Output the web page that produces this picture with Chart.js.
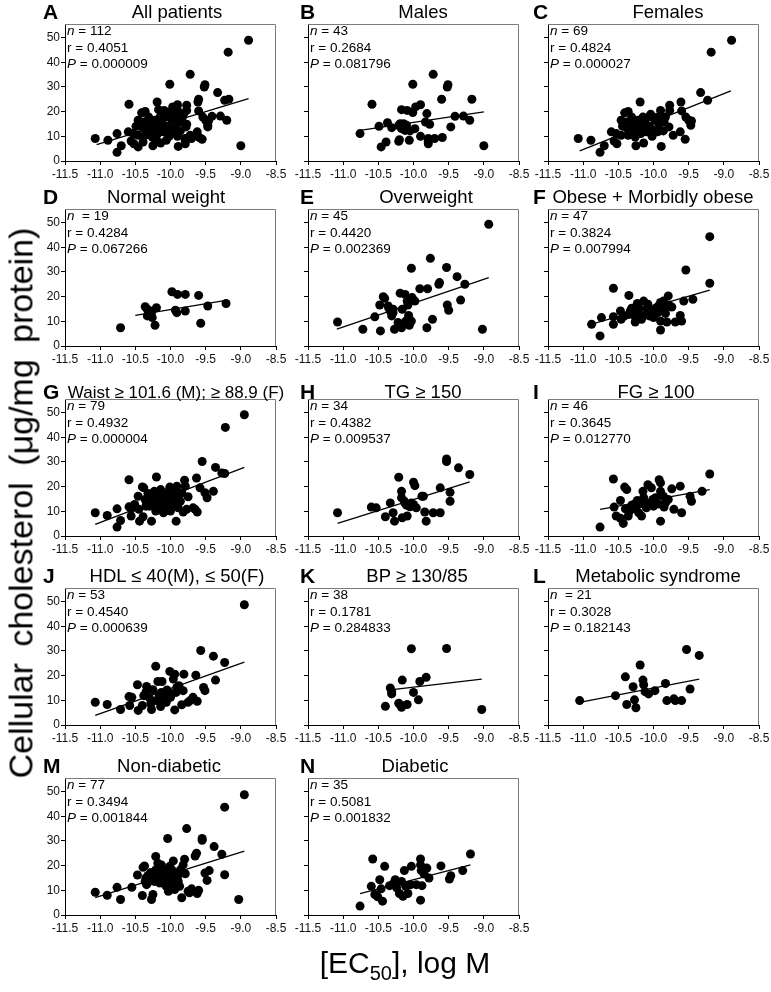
<!DOCTYPE html>
<html>
<head>
<meta charset="utf-8">
<script src="https://cdn.jsdelivr.net/npm/chart.js@4.4.1/dist/chart.umd.min.js"></script>
<style>
body{margin:0;background:#fff;width:771px;height:992px;position:relative;overflow:hidden;font-family:Arial,"Liberation Sans",sans-serif;color:#000;}
canvas{position:absolute;}
.letter{position:absolute;font-weight:bold;font-size:21px;line-height:1;}
.title{position:absolute;font-size:18.5px;line-height:1;white-space:nowrap;transform:translateX(-50%);}
.stats{position:absolute;font-size:13.5px;line-height:16.7px;white-space:pre;}
.ytitle{position:absolute;font-size:34px;white-space:nowrap;word-spacing:7px;transform:translate(-50%,-50%) rotate(-90deg);}
.xtitle{position:absolute;font-size:30px;white-space:nowrap;transform:translateX(-50%);}
</style>
</head>
<body>
<script>
// axis ticks
const xTicks = [-11.5,-11.0,-10.5,-10.0,-9.5,-9.0,-8.5];
const yTicks = [0,10,20,30,40,50];

// points: [log EC50, cholesterol]
const dataB = [[-10.76,11.1],[-10.59,23.0],[-10.49,14.1],[-10.46,5.7],[-10.39,7.7],[-10.37,15.5],[-10.31,13.5],[-10.21,8.0],[-10.20,8.6],[-10.19,15.1],[-10.17,20.8],[-10.14,15.1],[-10.17,13.1],[-10.12,12.4],[-10.09,20.5],[-10.06,8.4],[-10.05,12.2],[-10.01,31.1],[-10.01,19.6],[-9.98,13.1],[-9.97,21.9],[-9.90,22.8],[-9.90,10.0],[-9.83,15.8],[-9.81,19.2],[-9.79,9.1],[-9.79,7.0],[-9.77,14.9],[-9.72,35.1],[-9.70,9.1],[-9.59,9.5],[-9.60,25.0],[-9.52,30.0],[-9.51,30.9],[-9.47,13.8],[-9.41,18.1],[-9.29,18.2],[-9.20,16.5],[-9.17,25.0],[-9.00,6.2],[-10.21,14.4],[-10.10,14.5],[-9.79,8.0]];
const dataC = [[-11.07,9.1],[-10.89,8.4],[-10.76,3.5],[-10.70,6.2],[-10.60,11.8],[-10.56,8.1],[-10.53,11.1],[-10.52,7.0],[-10.46,10.4],[-10.46,16.5],[-10.41,19.5],[-10.36,20.1],[-10.37,13.1],[-10.33,14.5],[-10.32,11.8],[-10.30,15.8],[-10.27,13.5],[-10.26,9.7],[-10.25,6.2],[-10.22,16.5],[-10.19,23.9],[-10.21,12.4],[-10.15,17.8],[-10.14,7.3],[-10.12,15.1],[-10.10,11.8],[-10.07,17.8],[-10.04,18.9],[-10.02,10.0],[-10.00,12.4],[-9.98,16.5],[-9.96,17.6],[-9.92,14.9],[-9.90,20.5],[-9.89,5.9],[-9.88,17.2],[-9.86,12.2],[-9.85,15.8],[-9.78,13.8],[-9.77,22.6],[-9.77,20.5],[-9.72,10.4],[-9.62,11.8],[-9.61,23.9],[-9.60,20.3],[-9.55,8.8],[-9.54,17.8],[-9.50,16.5],[-9.47,14.5],[-9.46,16.2],[-9.33,27.7],[-9.23,24.6],[-9.18,44.1],[-8.89,48.9],[-10.38,15.8],[-10.31,17.8],[-10.29,14.1],[-10.26,14.9],[-10.17,15.8],[-10.12,13.5],[-10.06,14.1],[-10.03,13.1],[-9.94,11.8],[-10.12,17.2],[-10.27,11.1],[-10.18,11.1],[-9.83,17.8],[-10.36,10.4],[-10.44,14.1]];
const dataA = dataB.concat(dataC);
const dataD = [[-10.71,7.4],[-10.36,15.9],[-10.33,14.9],[-10.29,14.2],[-10.27,13.5],[-10.26,11.5],[-10.20,15.5],[-10.22,8.4],[-9.98,22.0],[-9.90,20.9],[-9.93,14.5],[-9.91,13.5],[-9.79,20.9],[-9.79,14.2],[-9.60,20.5],[-9.57,9.2],[-9.47,16.2],[-9.21,17.2],[-10.33,12.2]];
const dataE = [[-11.08,9.7],[-10.72,6.8],[-10.55,11.8],[-10.48,16.6],[-10.47,6.1],[-10.43,20.0],[-10.41,19.3],[-10.35,15.3],[-10.33,14.2],[-10.29,14.9],[-10.31,12.2],[-10.27,6.8],[-10.22,9.5],[-10.21,8.8],[-10.19,21.4],[-10.17,7.4],[-10.12,20.9],[-10.11,10.1],[-10.09,18.2],[-10.08,16.6],[-10.07,12.4],[-10.06,8.4],[-10.03,31.5],[-10.03,10.1],[-10.02,19.6],[-9.98,18.2],[-9.91,23.2],[-9.81,7.4],[-9.80,23.2],[-9.76,35.5],[-9.73,10.8],[-9.64,25.0],[-9.63,25.7],[-9.53,31.8],[-9.52,16.6],[-9.50,14.5],[-9.38,28.1],[-9.33,18.6],[-9.27,25.0],[-9.02,6.8],[-8.93,49.3],[-10.29,13.5],[-10.36,16.2],[-10.16,14.9],[-10.05,18.9]];
const dataF = [[-10.88,8.8],[-10.76,4.1],[-10.74,11.5],[-10.57,11.9],[-10.57,8.8],[-10.57,23.4],[-10.47,14.2],[-10.46,10.8],[-10.35,20.5],[-10.35,12.8],[-10.33,14.2],[-10.31,15.3],[-10.26,9.7],[-10.23,17.2],[-10.22,13.5],[-10.14,18.2],[-10.12,12.6],[-10.10,14.9],[-10.06,12.2],[-10.00,11.5],[-9.94,13.5],[-9.93,16.2],[-9.90,17.6],[-9.90,10.1],[-9.90,6.5],[-9.86,18.2],[-9.83,13.2],[-9.81,9.7],[-9.79,20.3],[-9.78,16.6],[-9.74,15.8],[-9.69,9.7],[-9.62,12.4],[-9.60,10.1],[-9.57,18.2],[-9.54,30.8],[-9.44,18.9],[-9.20,44.3],[-9.20,25.4],[-10.21,15.5],[-10.03,14.2],[-10.27,12.2],[-9.85,14.9],[-10.17,10.8],[-9.97,15.3],[-10.41,12.2],[-10.08,16.9]];
const dataG = [[-11.07,9.4],[-10.90,8.3],[-10.76,11.0],[-10.76,3.6],[-10.71,6.3],[-10.59,22.8],[-10.59,11.8],[-10.56,11.0],[-10.56,8.1],[-10.51,12.8],[-10.46,16.1],[-10.45,10.8],[-10.44,6.0],[-10.40,19.9],[-10.38,19.5],[-10.39,7.8],[-10.36,14.8],[-10.34,13.4],[-10.32,17.2],[-10.30,12.1],[-10.28,15.5],[-10.27,6.0],[-10.25,13.7],[-10.23,18.1],[-10.21,10.1],[-10.20,23.9],[-10.18,16.4],[-10.16,13.4],[-10.14,18.8],[-10.13,12.1],[-10.11,15.5],[-10.10,9.4],[-10.08,17.5],[-10.06,12.8],[-10.05,14.4],[-10.03,10.5],[-10.01,19.8],[-10.00,16.1],[-9.98,12.8],[-9.96,18.5],[-9.94,14.8],[-9.92,6.0],[-9.91,20.2],[-9.89,11.4],[-9.87,16.8],[-9.86,14.1],[-9.82,9.7],[-9.80,22.6],[-9.79,20.2],[-9.77,10.8],[-9.75,15.9],[-9.68,11.4],[-9.65,10.8],[-9.63,23.5],[-9.62,9.7],[-9.58,19.5],[-9.55,30.2],[-9.51,17.5],[-9.48,15.5],[-9.39,18.1],[-9.36,27.8],[-9.27,25.5],[-9.23,25.3],[-9.22,44.0],[-8.95,49.1],[-10.35,12.1],[-10.27,16.8],[-10.21,14.5],[-10.16,11.4],[-10.12,17.7],[-10.03,15.9],[-10.00,10.1],[-9.95,16.1],[-9.90,12.5],[-9.84,17.5],[-10.09,13.7],[-10.18,12.4],[-10.02,16.8],[-10.31,15.9]];
const dataH = [[-11.08,9.4],[-10.60,11.7],[-10.53,11.4],[-10.40,7.8],[-10.33,13.4],[-10.29,9.4],[-10.27,6.0],[-10.21,23.8],[-10.17,18.1],[-10.17,15.5],[-10.16,7.4],[-10.12,13.2],[-10.10,12.5],[-10.09,8.1],[-10.05,11.8],[-10.03,13.4],[-10.00,21.8],[-10.00,12.8],[-9.98,20.4],[-9.88,16.1],[-9.86,16.1],[-9.84,9.7],[-9.82,6.0],[-9.72,9.4],[-9.62,9.4],[-9.62,19.5],[-9.53,31.2],[-9.53,30.2],[-9.48,17.7],[-9.48,14.1],[-9.36,27.6],[-9.20,24.9],[-10.13,14.1],[-9.96,11.4]];
const dataI = [[-10.76,3.6],[-10.57,23.1],[-10.56,11.7],[-10.53,8.1],[-10.47,7.2],[-10.47,14.4],[-10.43,5.1],[-10.41,19.8],[-10.38,18.8],[-10.40,11.0],[-10.36,8.1],[-10.31,12.5],[-10.27,13.0],[-10.26,11.0],[-10.23,14.4],[-10.21,9.4],[-10.17,8.1],[-10.15,18.1],[-10.14,15.5],[-10.12,12.5],[-10.08,20.8],[-10.05,13.4],[-10.03,19.5],[-10.00,12.1],[-9.97,15.5],[-9.93,13.0],[-9.92,22.8],[-9.90,21.5],[-9.90,18.1],[-9.90,6.0],[-9.86,16.1],[-9.85,11.7],[-9.79,14.8],[-9.74,19.1],[-9.71,10.8],[-9.62,20.2],[-9.60,9.4],[-9.48,16.1],[-9.46,14.1],[-9.31,18.1],[-9.20,25.1],[-10.34,10.1],[-10.10,11.4],[-10.01,14.8],[-10.21,12.8],[-9.83,13.4]];
const dataJ = [[-11.07,9.2],[-10.90,8.3],[-10.71,6.3],[-10.59,11.5],[-10.58,7.9],[-10.55,11.2],[-10.47,16.3],[-10.46,5.9],[-10.40,7.9],[-10.38,11.9],[-10.34,15.6],[-10.32,14.6],[-10.30,11.0],[-10.28,8.6],[-10.27,6.3],[-10.25,14.3],[-10.21,23.8],[-10.20,9.9],[-10.18,17.6],[-10.14,7.5],[-10.12,17.6],[-10.10,9.2],[-10.08,12.6],[-10.06,9.2],[-10.03,13.2],[-10.01,21.7],[-10.00,11.2],[-9.98,12.6],[-9.96,18.6],[-9.94,6.1],[-9.94,20.6],[-9.91,15.2],[-9.88,15.9],[-9.84,8.2],[-9.82,13.9],[-9.81,20.6],[-9.75,9.2],[-9.72,9.9],[-9.68,11.2],[-9.64,20.2],[-9.62,9.6],[-9.57,30.2],[-9.53,15.2],[-9.51,13.9],[-9.39,27.9],[-9.36,18.2],[-9.23,25.3],[-8.95,48.7],[-10.35,13.2],[-10.16,11.9],[-10.05,14.2],[-10.13,13.2],[-9.92,13.2]];
const dataK = [[-10.40,7.6],[-10.33,15.0],[-10.31,13.5],[-10.31,12.6],[-10.21,8.8],[-10.17,7.2],[-10.16,18.2],[-10.09,8.3],[-10.03,30.9],[-10.00,13.2],[-9.93,10.2],[-9.91,17.6],[-9.82,19.3],[-9.53,31.0],[-9.03,6.3],[-10.19,8.2]];
const dataL = [[-11.05,9.9],[-10.54,11.9],[-10.40,19.5],[-10.38,8.3],[-10.29,15.5],[-10.27,10.2],[-10.25,7.0],[-10.19,24.3],[-10.15,18.2],[-10.14,16.3],[-10.12,13.5],[-10.07,12.6],[-9.98,13.9],[-9.83,16.8],[-9.81,9.9],[-9.71,10.6],[-9.69,9.9],[-9.60,9.9],[-9.53,30.6],[-9.48,14.6],[-9.35,28.2]];
const dataM = [[-11.07,9.2],[-10.90,8.0],[-10.76,11.2],[-10.71,6.3],[-10.55,11.2],[-10.47,16.2],[-10.40,7.9],[-10.39,19.3],[-10.37,19.9],[-10.35,15.0],[-10.32,16.0],[-10.30,13.6],[-10.28,17.2],[-10.27,6.3],[-10.25,8.3],[-10.25,15.2],[-10.21,23.7],[-10.20,16.3],[-10.18,21.0],[-10.16,13.0],[-10.14,15.0],[-10.13,20.3],[-10.11,17.6],[-10.10,13.6],[-10.08,18.3],[-10.06,11.6],[-10.05,16.6],[-10.04,31.0],[-10.03,9.6],[-10.01,19.7],[-10.00,14.3],[-9.98,18.3],[-9.96,21.9],[-9.96,13.0],[-9.94,10.3],[-9.92,16.3],[-9.90,15.6],[-9.87,11.6],[-9.84,7.0],[-9.82,20.3],[-9.80,22.6],[-9.79,16.7],[-9.77,35.0],[-9.75,9.6],[-9.73,9.0],[-9.70,10.6],[-9.65,23.9],[-9.63,25.0],[-9.62,8.7],[-9.60,10.0],[-9.55,30.3],[-9.55,31.0],[-9.51,17.0],[-9.48,14.0],[-9.45,18.0],[-9.38,27.7],[-9.27,24.6],[-9.23,16.3],[-9.23,43.7],[-9.03,6.3],[-8.95,48.7],[-10.36,13.6],[-10.34,12.3],[-10.29,15.6],[-10.23,13.6],[-10.21,18.3],[-10.17,15.6],[-10.13,13.0],[-10.09,15.6],[-10.03,13.6],[-10.02,17.0],[-9.98,12.3],[-9.94,15.0],[-9.89,13.6],[-9.86,18.3],[-10.27,14.3],[-10.06,15.0]];
const dataN = [[-10.76,3.6],[-10.58,22.7],[-10.60,11.6],[-10.55,8.3],[-10.51,7.4],[-10.48,14.3],[-10.44,5.6],[-10.41,19.7],[-10.46,10.6],[-10.34,11.9],[-10.28,13.0],[-10.26,14.3],[-10.24,11.0],[-10.20,8.7],[-10.15,7.6],[-10.13,18.0],[-10.11,11.6],[-10.08,8.7],[-10.04,12.3],[-10.03,19.7],[-9.96,12.3],[-9.90,22.7],[-9.90,20.3],[-9.90,6.0],[-9.89,18.0],[-9.88,11.9],[-9.85,16.6],[-9.81,19.0],[-9.78,15.0],[-9.61,19.9],[-9.49,14.6],[-9.47,15.9],[-9.30,18.0],[-9.19,24.7],[-10.17,13.6]];

// regression line end points
const lineA = [[-11.05,6.6],[-8.89,25.3]];
const lineB = [[-10.76,12.4],[-9.00,19.9]];
const lineC = [[-11.05,4.1],[-8.90,28.4]];
const lineD = [[-10.50,12.4],[-9.21,18.5]];
const lineE = [[-11.09,6.8],[-8.93,27.7]];
const lineF = [[-10.89,8.8],[-9.20,22.6]];
const lineG = [[-11.07,4.7],[-8.95,27.8]];
const lineH = [[-11.08,5.1],[-9.20,21.9]];
const lineI = [[-10.76,10.8],[-9.20,18.8]];
const lineJ = [[-11.07,3.9],[-8.95,25.5]];
const lineK = [[-10.33,14.2],[-9.03,18.6]];
const lineL = [[-11.05,9.2],[-9.35,18.6]];
const lineM = [[-11.07,7.0],[-8.95,25.9]];
const lineN = [[-10.76,8.7],[-9.19,20.3]];

const letters = ['A','B','C','D','E','F','G','H','I','J','K','L','M','N'];
const titles = ['All patients','Males','Females','Normal weight','Overweight','Obese + Morbidly obese',
  'Waist ≥ 101.6 (M); ≥ 88.9 (F)','TG ≥ 150','FG ≥ 100','HDL ≤ 40(M), ≤ 50(F)','BP ≥ 130/85','Metabolic syndrome',
  'Non-diabetic','Diabetic'];
const nValues = ['= 112','= 43','= 69',' = 19','= 45','= 47','= 79','= 34','= 46','= 53','= 38',' = 21','= 77','= 35'];
const rValues = ['0.4051','0.2684','0.4824','0.4284','0.4420','0.3824','0.4932','0.4382','0.3645','0.4540','0.1781','0.3028','0.3494','0.5081'];
const pValues = ['0.000009','0.081796','0.000027','0.067266','0.002369','0.007994','0.000004','0.009537','0.012770','0.000639','0.284833','0.182143','0.001844','0.001832'];
const allData = [dataA,dataB,dataC,dataD,dataE,dataF,dataG,dataH,dataI,dataJ,dataK,dataL,dataM,dataN];
const allLines = [lineA,lineB,lineC,lineD,lineE,lineF,lineG,lineH,lineI,lineJ,lineK,lineL,lineM,lineN];

// layout of the grid (px)
const colLeft = [65,308,548];
const rowTop = [24,209,399,588,778];
const titleGap = [21,21,16,21,21];
const PW = 211, PH = 137;
const letterLeft = [43,300,533];
const titleCenter = [177,423,668,166,426,653,176,423,656,177,417,658,169,415];

const boxPlugin = {
  id:'box',
  afterDraw(chart){
    const a = chart.chartArea, c = chart.ctx;
    c.save();
    c.strokeStyle = '#7a7a7a'; c.lineWidth = 1;
    c.beginPath();
    c.moveTo(a.left, a.top+0.5); c.lineTo(a.right-0.5, a.top+0.5); c.lineTo(a.right-0.5, a.bottom);
    c.stroke();
    c.restore();
  }
};

function addDiv(cls, html, left, top){
  const d = document.createElement('div');
  d.className = cls; d.innerHTML = html;
  d.style.left = left+'px'; d.style.top = top+'px';
  document.body.appendChild(d);
  return d;
}

function makePanel(i){
  const col = i % 3, row = Math.floor(i / 3);
  const L = colLeft[col], T = rowTop[row];
  const padL = 34, padT = 10, padR = 20, padB = 24;
  const cv = document.createElement('canvas');
  cv.width = PW + padL + padR; cv.height = PH + padT + padB;
  cv.style.left = (L - padL) + 'px'; cv.style.top = (T - padT) + 'px';
  document.body.appendChild(cv);

  new Chart(cv.getContext('2d'), {
    type:'scatter',
    data:{datasets:[
      {data: allData[i].map(([x,y])=>({x,y})), backgroundColor:'#000', borderColor:'#000', pointRadius:4.5, pointHoverRadius:4.5, borderWidth:0},
      {type:'line', data: allLines[i].map(([x,y])=>({x,y})), borderColor:'#000', borderWidth:1.3, pointRadius:0, fill:false, tension:0}
    ]},
    options:{
      responsive:false, animation:false, events:[],
      layout:{padding:{top:padT, right:padR, left:0, bottom:0}},
      plugins:{legend:{display:false}, tooltip:{enabled:false}},
      scales:{
        x:{type:'linear', min:-11.5, max:-8.5,
          afterBuildTicks: s => { s.ticks = xTicks.map(v=>({value:v})); },
          afterFit: s => { s.height = padB; },
          grid:{drawOnChartArea:false, drawTicks:true, tickLength:4, color:'#000'},
          border:{color:'#000', width:1},
          ticks:{color:'#111', font:{size:12, family:'Arial'}, padding:2, maxRotation:0, autoSkip:false, callback: v => v.toFixed(1)}},
        y:{type:'linear', min:0, max:55.5,
          afterBuildTicks: s => { s.ticks = yTicks.map(v=>({value:v})); },
          afterFit: s => { s.width = padL; },
          grid:{drawOnChartArea:false, drawTicks:true, tickLength:4, color:'#000'},
          border:{color:'#000', width:1},
          ticks:{color:'#111', font:{size:12, family:'Arial'}, padding:1, callback: v => col === 0 ? String(v) : ''}}
      }
    },
    plugins:[boxPlugin]
  });

  addDiv('letter', letters[i], letterLeft[col], T - titleGap[row] - 2);
  const t = addDiv('title', titles[i], titleCenter[i], T - titleGap[row]);
  if (i === 6) { t.style.fontSize = '17px'; t.style.top = (T - titleGap[row] + 1) + 'px'; }
  addDiv('stats', '<i>n</i> ' + nValues[i] + '\nr = ' + rValues[i] + '\n<i>P</i> = ' + pValues[i], L + 2, T - 1);
}

for (let i = 0; i < 14; i++) makePanel(i);

addDiv('ytitle', 'Cellular  cholesterol  (μg/mg  protein)', 21, 503);
addDiv('xtitle', '[EC<sub style="font-size:20px;">50</sub>], log M', 405, 946);
</script>
</body>
</html>
